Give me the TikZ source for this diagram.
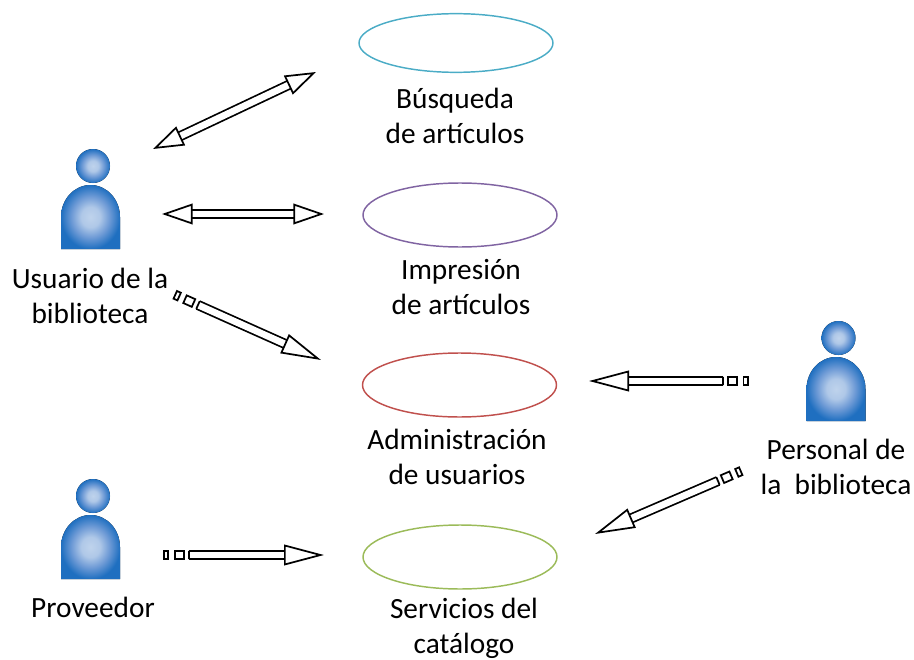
\documentclass[tikz,border=0pt]{standalone}
\usepackage{fontspec}
\setmainfont{Carlito}
\usetikzlibrary{arrows.meta,shapes.geometric}
\definecolor{tealline}{HTML}{4BACC6}
\definecolor{purpleline}{HTML}{8064A2}
\definecolor{redline}{HTML}{C0504D}
\definecolor{greenline}{HTML}{9BBB59}
\definecolor{userdark}{HTML}{1F6FC0}
\definecolor{usermid}{HTML}{6F9BD6}
\definecolor{userlight}{HTML}{BFD3EC}
\pgfdeclareradialshading{userglow}{\pgfpointorigin}{color(0bp)=(userlight); color(8bp)=(userlight!80!usermid); color(16bp)=(usermid); color(25bp)=(userdark); color(50bp)=(userdark)}
\begin{document}
\begin{tikzpicture}[x=.75pt,y=-.75pt]

      \tikzset{usecase/.style={draw, ellipse, inner sep=0pt, line width=1.1pt, minimum width=145.5pt, minimum height=48pt}}
      \tikzset{caption/.style={align=center, inner sep=0pt, font=\fontsize{22}{26.2}\selectfont}}
      \tikzset{blockline/.style={line width=1.3pt, double=white, double distance=5pt}}
      \tikzset{headtip/.style={-{Triangle[open, fill=white, length=30pt, width=15.5pt]}}}
      \tikzset{bothtips/.style={{Triangle[open, fill=white, length=23pt, width=15.5pt]}-{Triangle[open, fill=white, length=23pt, width=15.5pt]}}}
      \tikzset{endcap/.style={draw, sloped, inner sep=0pt, line width=1.3pt, minimum width=0pt, minimum height=6.3pt}}
      \tikzset{bigbox/.style={endcap, minimum width=7pt}}
      \tikzset{smallbox/.style={endcap, minimum width=3.2pt}}
      \tikzset{user/.pic={
          \fill[shading=userglow] (-29.5,0) -- (-29.5,-32) arc[start angle=180, end angle=360, x radius=29.5, y radius=32] -- (29.5,0) -- cycle;
          \fill[shading=userglow] (2.5,-83) circle[radius=17];
      }}
%% Use cases
      	\node[usecase, draw=tealline, minimum height=44pt] (search) at (456,43) {};
      	\node[usecase, draw=purpleline] (print) at (460,215) {};
      	\node[usecase, draw=redline] (admin) at (459.5,385) {};
      	\node[usecase, draw=greenline] (catalog) at (460,557) {};
%% Use case labels
      	\node[caption] (searchtext) at (455,116) {Búsqueda\\de artículos};
      	\node[caption] (printtext) at (461,287) {Impresión\\de artículos};
      	\node[caption] (admintext) at (457,457) {Administración\\de usuarios};
      	\node[caption] (catalogtext) at (464,628) {Servicios del\\catálogo};
%% Actors
      	\pic (reader) at (90.5,249) {user};
      	\pic (staff) at (836,421) {user};
      	\pic (supplier) at (90.5,579) {user};
      	\node[caption] (readertext) at (90,296) {Usuario de la\\biblioteca};
      	\node[caption] (stafftext) at (836,467) {Personal de\\la\ \ biblioteca};
      	\node[caption] (suppliertext) at (93,607) {Proveedor};
%% Arrow ends
      	\coordinate (a1) at (153,149);
      	\coordinate (b1) at (316,72);
      	\coordinate (a2) at (162,214);
      	\coordinate (b2) at (324,214);
      	\coordinate (a3) at (198,305);
      	\coordinate (b3) at (321,360);
      	\coordinate (a4) at (723,381);
      	\coordinate (b4) at (589,381);
      	\coordinate (a5) at (718,481);
      	\coordinate (b5) at (595,534);
      	\coordinate (a6) at (189,555);
      	\coordinate (b6) at (324,555);
%Arrows
		\draw [blockline, bothtips] (a1) -- (b1);
		\draw [blockline, bothtips] (a2) -- (b2);
		\draw [blockline, headtip] (a3) -- (b3) node[endcap, pos=0] (c3) {} node[bigbox, pos=-.071] (t3) {} node[smallbox, pos=-.169] (s3) {};
		\draw [blockline, headtip] (a4) -- (b4) node[endcap, pos=0] (c4) {} node[bigbox, pos=-.071] (t4) {} node[smallbox, pos=-.169] (s4) {};
		\draw [blockline, headtip] (a5) -- (b5) node[endcap, pos=0] (c5) {} node[bigbox, pos=-.071] (t5) {} node[smallbox, pos=-.169] (s5) {};
		\draw [blockline, headtip] (a6) -- (b6) node[endcap, pos=0] (c6) {} node[bigbox, pos=-.071] (t6) {} node[smallbox, pos=-.169] (s6) {};

		\useasboundingbox (0,0) rectangle (914,660);
	\end{tikzpicture}
\end{document}
